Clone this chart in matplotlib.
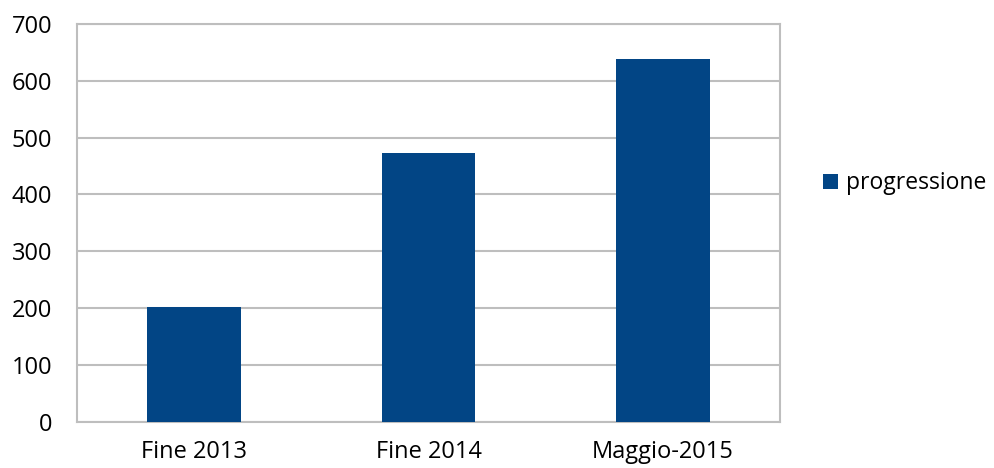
import matplotlib.pyplot as plt

categories = ["Fine 2013", "Fine 2014", "Maggio-2015"]
values = [201, 473, 638]
series_name = "progressione"
yticks = [0, 100, 200, 300, 400, 500, 600, 700]

plt.rcParams['font.family'] = ['Open Sans', 'DejaVu Sans']

fig = plt.figure(figsize=(9.95, 4.68), dpi=100)
ax = fig.add_axes([0.0774, 0.099, 0.7066, 0.8497])

x = range(len(categories))
ax.bar(x, values, width=0.4, color="#024585", label=series_name, zorder=3)

ax.set_xlim(-0.5, len(categories) - 0.5)
ax.set_ylim(0, 700)
ax.set_yticks(yticks)
ax.set_xticks(list(x))
ax.set_xticklabels(categories)
ax.tick_params(axis='both', length=0, labelsize=17, colors="black")
ax.tick_params(axis='y', pad=18)
ax.tick_params(axis='x', pad=13)

ax.grid(axis='y', color="#BEBEBE", linewidth=1.5, zorder=0)
for s in ax.spines.values():
    s.set_color("#BEBEBE")
    s.set_linewidth(1.5)

ax.legend(loc='center left', bbox_to_anchor=(1.061, 0.599), frameon=False,
          fontsize=16.5, handlelength=0.65, handleheight=0.65, handletextpad=0.35,
          borderpad=0, borderaxespad=0)

fig.savefig("out.png", dpi=100)
